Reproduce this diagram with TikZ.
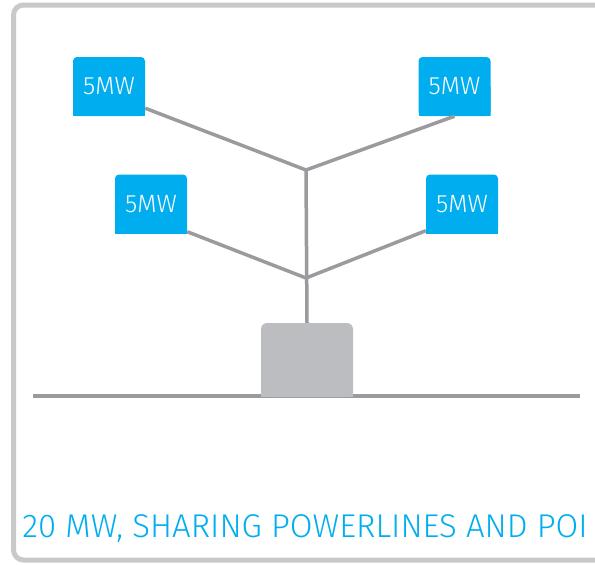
\documentclass[tikz,border=0pt]{standalone}
\usepackage{fontspec}
\setmainfont{Fira Sans}[UprightFont={* Light}]
\definecolor{mwblue}{RGB}{0,174,239}
\definecolor{linegray}{RGB}{153,155,158}
\definecolor{poigray}{RGB}{188,189,192}
\definecolor{framegray}{RGB}{200,201,203}
\tikzset{
  mwbox/.style={minimum width=72pt, minimum height=59pt, inner sep=0pt,
    text=white, font=\fontsize{25}{28}\selectfont,
    path picture={
      \fill[mwblue, rounded corners=4pt] (path picture bounding box.south west) rectangle (path picture bounding box.north east);
      \fill[mwblue] (path picture bounding box.south west) rectangle (path picture bounding box.east);
    }},
  poibox/.style={minimum width=92pt, minimum height=74pt, inner sep=0pt,
    path picture={
      \fill[poigray, rounded corners=6pt] (path picture bounding box.south west) rectangle (path picture bounding box.north east);
      \fill[poigray] (path picture bounding box.south west) rectangle (path picture bounding box.east);
    }},
  wire/.style={draw=linegray, line width=3.5pt}
}
\begin{document}
\begin{tikzpicture}[x=1pt,y=-1pt]
  \useasboundingbox (0,0) rectangle (595,565);
  % frame
  \draw[framegray, line width=5pt, rounded corners=10pt] (13.5,5) rectangle (620,560);
  % ground line and point of interconnection
  \coordinate (gl) at (33,396);
  \coordinate (gr) at (580,396);
  \draw[wire] (gl) -- (gr);
  \node[poibox] (poi) at (307,360) {};
  % plants
  \node[mwbox] (tl) at (109,86.5) {5MW};
  \node[mwbox] (tr) at (454.5,86.5) {5MW};
  \node[mwbox] (bl) at (151,204) {5MW};
  \node[mwbox] (br) at (462,204) {5MW};
  % junctions
  \coordinate (j1) at (306,170);
  \coordinate (j2) at (306,278);
  \draw[wire] ([yshift=8pt]tl.south east) -- (j1) -- (tr.south);
  \draw[wire] ([yshift=2pt]bl.south east) -- (j2) -- ([yshift=3pt]br.south west);
  \draw[wire] (j1) -- (poi.north);
  % caption
  \node[text=mwblue, anchor=base, font=\fontsize{32.9}{38}\selectfont] (cap) at (305,537) {20 MW, SHARING POWERLINES AND POI};
\end{tikzpicture}
\end{document}
